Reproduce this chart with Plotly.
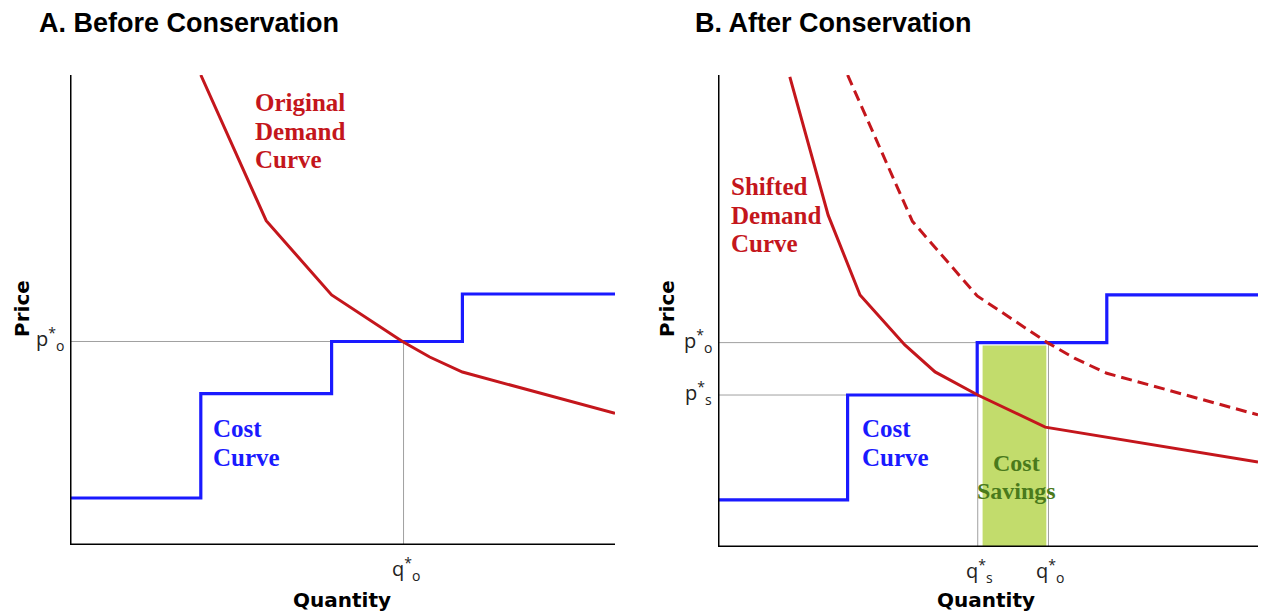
import plotly.graph_objects as go

W, H = 1266, 616

# ---- data (chart units: quantity 0-100, price 0-100) ----
orig_q = [24, 36, 48, 61, 66, 72, 100]
orig_p = [100, 69, 53.2, 43.3, 40, 36.8, 28]
shift_q = [13.3, 20.4, 26.3, 34.6, 40.2, 48.1, 60.6, 100]
shift_p = [99.6, 70.3, 53.4, 42.8, 37.1, 32.2, 25.4, 18]
cost_breaks = [0, 24, 48, 72, 100]
cost_levels = [10, 32.2, 43.3, 53.4]
p_o, q_o = 43.3, 61.2
p_s, q_s = 32.2, 48.1

RED = "#c4161c"
BLUE = "#1a1aff"
GRAY = "#a0a0a0"

def step_xy(breaks, levels):
    xs, ys = [], []
    for i, lv in enumerate(levels):
        xs += [breaks[i], breaks[i + 1]]
        ys += [lv, lv]
    return xs, ys

cx, cy = step_xy(cost_breaks, cost_levels)

fig = go.Figure()

def px(x):
    return x / W

def py(y):
    return 1 - y / H

axis_common = dict(range=[0, 100], showgrid=False, zeroline=False, showticklabels=False,
                   ticks="", showline=False, fixedrange=True)

fig.update_layout(
    width=W, height=H, margin=dict(l=0, r=0, t=0, b=0),
    paper_bgcolor="white", plot_bgcolor="white", showlegend=False,
    xaxis=dict(domain=[px(70), px(615)], anchor="y", **axis_common),
    yaxis=dict(domain=[py(545), py(75)], anchor="x", **axis_common),
    xaxis2=dict(domain=[px(718), px(1258)], anchor="y2", **axis_common),
    yaxis2=dict(domain=[py(547), py(75)], anchor="x2", **axis_common),
)

# ---------- Panel A ----------
fig.add_trace(go.Scatter(x=[0, q_o, q_o], y=[p_o, p_o, 0], mode="lines",
                         line=dict(color=GRAY, width=1), xaxis="x", yaxis="y"))
fig.add_trace(go.Scatter(x=cx, y=cy, mode="lines", line=dict(color=BLUE, width=3.2),
                         xaxis="x", yaxis="y"))
fig.add_trace(go.Scatter(x=orig_q, y=orig_p, mode="lines", line=dict(color=RED, width=3),
                         xaxis="x", yaxis="y"))
fig.add_trace(go.Scatter(x=[0, 0, 100], y=[100, 0, 0], mode="lines",
                         line=dict(color="black", width=3), xaxis="x", yaxis="y"))

# ---------- Panel B ----------
fig.add_shape(type="rect", xref="x2", yref="y2", x0=q_s + 0.9, x1=q_o - 0.4, y0=0, y1=p_o - 0.6,
              fillcolor="#c2dc6c", line=dict(width=0), layer="below")
fig.add_trace(go.Scatter(x=[0, q_s, q_s], y=[p_s, p_s, 0], mode="lines",
                         line=dict(color=GRAY, width=1), xaxis="x2", yaxis="y2"))
fig.add_trace(go.Scatter(x=[0, q_o, q_o], y=[p_o, p_o, 0], mode="lines",
                         line=dict(color=GRAY, width=1), xaxis="x2", yaxis="y2"))
fig.add_trace(go.Scatter(x=cx, y=cy, mode="lines", line=dict(color=BLUE, width=3.2),
                         xaxis="x2", yaxis="y2"))
fig.add_trace(go.Scatter(x=orig_q, y=orig_p, mode="lines",
                         line=dict(color=RED, width=3, dash="11px,6px"), xaxis="x2", yaxis="y2"))
fig.add_trace(go.Scatter(x=shift_q, y=shift_p, mode="lines", line=dict(color=RED, width=3),
                         xaxis="x2", yaxis="y2"))
fig.add_trace(go.Scatter(x=[0, 0, 100], y=[100, 0, 0], mode="lines",
                         line=dict(color="black", width=3), xaxis="x2", yaxis="y2"))

# ---------- text ----------
ann = []
TITLE_FONT = dict(family="Liberation Sans", size=27, color="black")
ann.append(dict(text="<b>A. Before Conservation</b>", x=px(37), y=py(23), xref="paper", yref="paper",
                xanchor="left", yanchor="middle", showarrow=False, font=TITLE_FONT))
ann.append(dict(text="<b>B. After Conservation</b>", x=px(693), y=py(23), xref="paper", yref="paper",
                xanchor="left", yanchor="middle", showarrow=False, font=TITLE_FONT))

LAB_FONT = dict(family="DejaVu Sans", size=20, color="black")
TICK_FONT = dict(family="Open Sans", size=20, color="#222")

for xcen, ylab in [(342, 22), (986, 667)]:
    ann.append(dict(text="<b>Price</b>", x=px(ylab), y=py(309), xref="paper", yref="paper",
                    textangle=-90, showarrow=False, font=LAB_FONT, xanchor="center", yanchor="middle"))
    ann.append(dict(text="<b>Quantity</b>", x=px(xcen), y=py(600), xref="paper", yref="paper",
                    showarrow=False, font=LAB_FONT, xanchor="center", yanchor="middle"))

def ptick(label, yv, xa, ya):
    ann.append(dict(text="p<sup>*</sup><sub>" + label + "</sub>", x=0, y=yv, xref=xa, yref=ya,
                    xanchor="right", yanchor="middle", xshift=-4, yshift=2,
                    showarrow=False, font=TICK_FONT))

def qtick(label, xv, xa, ya):
    ann.append(dict(text="q<sup>*</sup><sub>" + label + "</sub>", x=xv, y=0, xref=xa, yref=ya,
                    xanchor="center", yanchor="top", yshift=-6, xshift=2,
                    showarrow=False, font=TICK_FONT))

ptick("o", p_o, "x", "y")
qtick("o", q_o, "x", "y")
ptick("o", p_o, "x2", "y2")
ptick("s", p_s, "x2", "y2")
qtick("s", q_s, "x2", "y2")
qtick("o", q_o, "x2", "y2")

def block(lines, x0, y0, step, color, size=25, anchor="left"):
    for i, t in enumerate(lines):
        ann.append(dict(text="<b>" + t + "</b>", x=px(x0), y=py(y0 + i * step), xref="paper",
                        yref="paper", xanchor=anchor, yanchor="middle", showarrow=False,
                        font=dict(family="Liberation Serif", size=size, color=color)))

block(["Original", "Demand", "Curve"], 253, 103, 28.5, RED)
block(["Cost", "Curve"], 211, 428, 29, BLUE)
block(["Shifted", "Demand", "Curve"], 729, 186, 29, RED)
block(["Cost", "Curve"], 860, 428, 29, BLUE)
block(["Cost", "Savings"], 1016, 463, 28, "#4a7a1c", size=24, anchor="center")

fig.update_layout(annotations=ann)
fig.update_traces(hoverinfo="skip")

fig.write_html("out.html", config={"displayModeBar": False},
               post_script="document.body.style.margin='0';")
